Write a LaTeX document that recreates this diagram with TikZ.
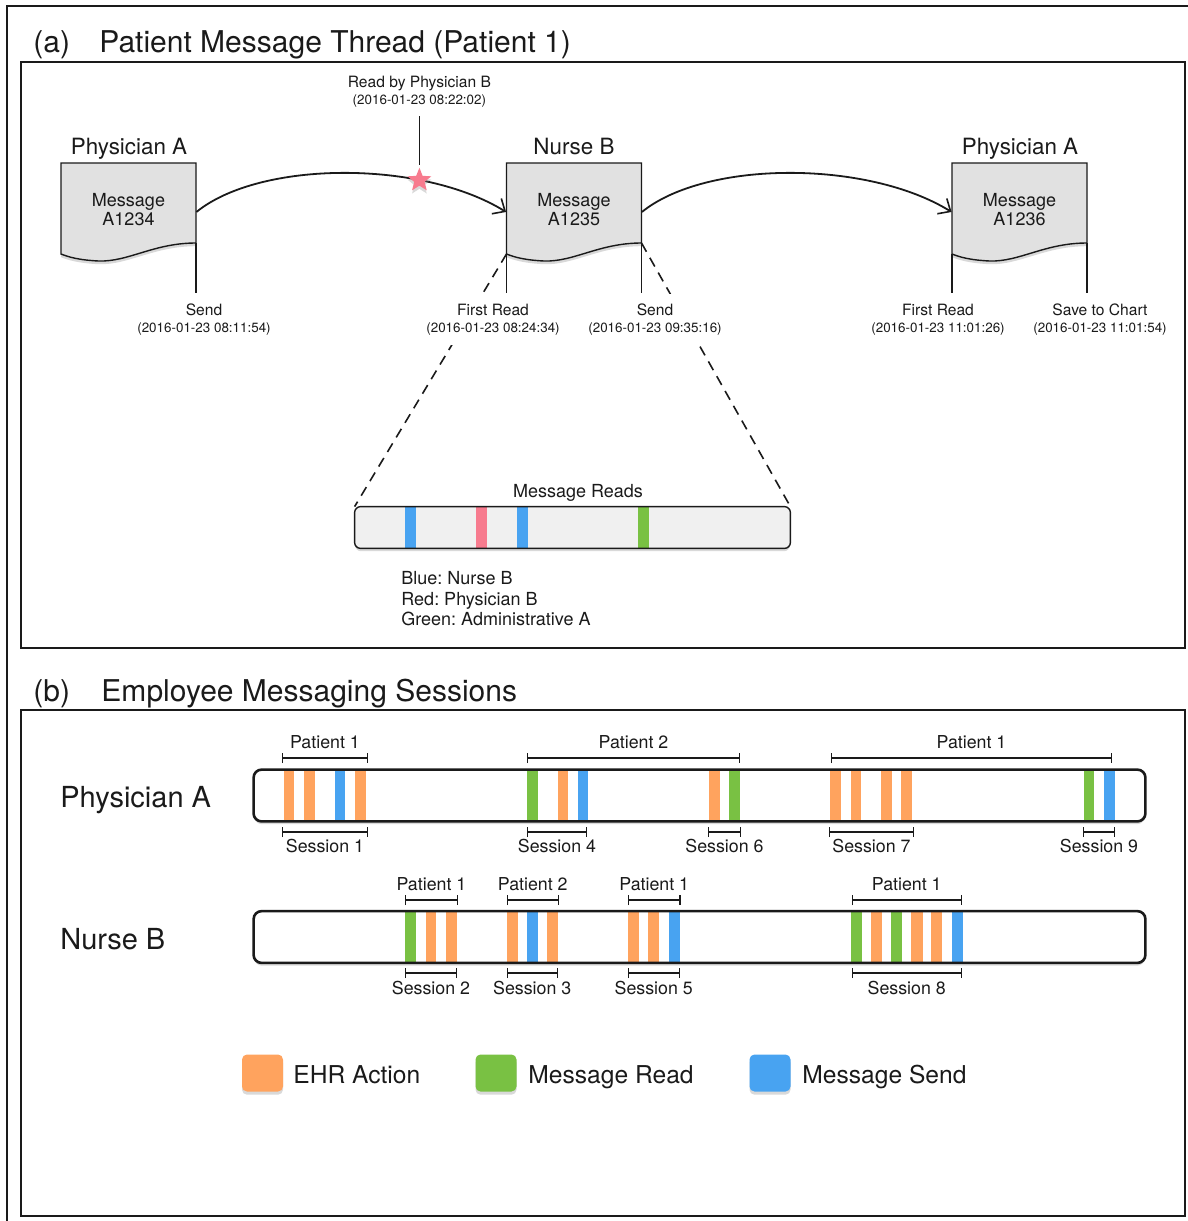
\documentclass[tikz,border=0pt]{standalone}
\usepackage{fontspec}
\setmainfont{TeX Gyre Heros}
\usetikzlibrary{arrows.meta,shapes.geometric,shadows}
\frenchspacing

\definecolor{ehr}{HTML}{FFA35E}
\definecolor{mread}{HTML}{79C143}
\definecolor{msend}{HTML}{48A3F1}
\definecolor{phyb}{HTML}{F77B8E}
\definecolor{docgray}{HTML}{E1E1E1}
\definecolor{readfill}{HTML}{F0F0F0}
\definecolor{ink}{HTML}{1A1A1A}

\newcommand\datefont{\fontsize{6.7}{8.5}\selectfont}

\begin{document}
\begin{tikzpicture}[x=0.5pt, y=-0.5pt,
  font=\fontsize{9}{10.8}\selectfont,
  every node/.style={text=ink},
  softshadow/.style={drop shadow={shadow xshift=0pt, shadow yshift=-1.6pt, opacity=0.3}},
  panelbox/.style={draw=ink, line width=0.75pt},
  paneltitle/.style={anchor=base west, inner sep=0pt, font=\fontsize{15}{18}\selectfont},
  who/.style={anchor=base, font=\fontsize{11.2}{13}\selectfont, inner sep=0pt},
  docnode/.style={minimum width=67.5pt, inner sep=0pt, align=center, font=\fontsize{9}{9.5}\selectfont},
  stamp/.style={align=center, inner xsep=1pt, inner ysep=5pt, fill=white, font=\fontsize{7.8}{8.5}\selectfont},
  conn/.style={draw=ink, line width=0.9pt, -{Straight Barb[length=5pt, width=9pt, line width=0.8pt]}},
  stemline/.style={draw=ink, line width=0.7pt},
  zoomline/.style={draw=ink, line width=0.8pt, dash pattern=on 5pt off 3.5pt},
  starnode/.style={star, star points=5, star point ratio=2.3, minimum size=12.5pt, inner sep=0pt, fill=phyb, softshadow},
  readbar/.style={minimum width=217.5pt, minimum height=20.5pt, inner sep=0pt, fill=readfill, rounded corners=3pt, softshadow},
  keyline/.style={anchor=base west, inner sep=0pt},
  brk/.style={draw=ink, line width=0.55pt, {Bar[width=5pt]}-{Bar[width=5pt]}},
  sessfont/.style={font=\fontsize{8.9}{10}\selectfont, inner sep=0pt},
  rowlabel/.style={font=\fontsize{14.5}{17}\selectfont, anchor=base west, inner sep=0pt},
  trackbar/.style={minimum width=445.5pt, minimum height=25.5pt, inner sep=0pt, fill=white, rounded corners=4pt, softshadow},
  trackedge/.style={draw=ink, line width=1.3pt, rounded corners=4pt},
  legendbox/.style={minimum width=20.5pt, minimum height=18.5pt, inner sep=0pt, rounded corners=2.5pt, softshadow},
  keytext/.style={anchor=base west, inner sep=0pt, font=\fontsize{12.3}{14}\selectfont},
  docpic/.pic={\path[fill=docgray, draw=ink, line width=0.7pt, softshadow]
     (-67.5,-45) -- (67.5,-45) -- (67.5,35)
     .. controls (25,35) and (0,54) .. (-30,53)
     .. controls (-50,52) and (-60,49) .. (-67.5,46) -- cycle;}
]
\useasboundingbox (0,0) rectangle (1188,1221);

% outer frame and the two panels
\draw[ink, line width=1pt] (7,1221) -- (7,6) -- (1188,6);
\draw[panelbox] (21,62) rectangle (1185,648);
\draw[panelbox] (21,710) rectangle (1185,1216);

\node[paneltitle] (ta) at (33,52.5) {(a)};
\node[paneltitle] (tat) at (99,52.5) {Patient Message Thread (Patient 1)};
\node[paneltitle] (tb) at (33,701.5) {(b)};
\node[paneltitle] (tbt) at (101,701.5) {Employee Messaging Sessions};

% ---------- (a) message thread ----------
\pic at (128.5,208) {docpic};
\node[docnode] (m1) at (128.5,210) {Message\\A1234};
\node[who] (w1) at (129,154) {Physician A};

\pic at (574,208) {docpic};
\node[docnode] (m2) at (574,210) {Message\\A1235};
\node[who] (w2) at (574,154) {Nurse B};

\pic at (1019.5,208) {docpic};
\node[docnode] (m3) at (1019.5,210) {Message\\A1236};
\node[who] (w3) at (1020,154) {Physician A};

\coordinate (m1br) at (196,243);
\coordinate (m2bl) at (506.5,254);
\coordinate (m2br) at (641.5,243);
\coordinate (m3bl) at (952,254);
\coordinate (m3br) at (1087,243);

% message read bar
\node[readbar] (reads) at (572.5,527.5) {};
\node (readsl) at (578,493) {Message Reads};

\draw[zoomline] (m2bl) -- (reads.north west);
\draw[zoomline] (m2br) -- (reads.north east);

\fill[msend] (405,507) rectangle (416,548);
\fill[phyb] (476,507) rectangle (487,548);
\fill[msend] (517,507) rectangle (528,548);
\fill[mread] (638,507) rectangle (649,548);
\draw[ink, line width=0.7pt, rounded corners=3pt] (reads.north west) rectangle (reads.south east);

\node[keyline] (k1) at (401,584.5) {Blue: Nurse B};
\node[keyline] (k2) at (401,605) {Red: Physician B};
\node[keyline] (k3) at (401,625.5) {Green: Administrative A};

% event stamps
\node[stamp] (s1) at (204,319.5) {Send\\{\datefont (2016-01-23 08:11:54)}};
\node[stamp] (s2) at (493,319.5) {First Read\\{\datefont (2016-01-23 08:24:34)}};
\node[stamp] (s3) at (655,319.5) {Send\\{\datefont (2016-01-23 09:35:16)}};
\node[stamp] (s4) at (938,319.5) {First Read\\{\datefont (2016-01-23 11:01:26)}};
\node[stamp] (s5) at (1100,319.5) {Save to Chart\\{\datefont (2016-01-23 11:01:54)}};

\draw[stemline] (m1br) -- (m1br |- s1.north);
\draw[stemline] (m2bl) -- (m2bl |- s2.north);
\draw[stemline] (m2br) -- (m2br |- s3.north);
\draw[stemline] (m3bl) -- (m3bl |- s4.north);
\draw[stemline] (m3br) -- (m3br |- s5.north);

% forwarding arrows
\draw[conn] ([yshift=-1pt]m1.east) .. controls +(64,-52) and +(-84,-52) .. ([yshift=-1pt]m2.west)
  node[pos=0.715, starnode] (star) {};
\draw[conn] ([yshift=-1pt]m2.east) .. controls +(64,-52) and +(-84,-52) .. ([yshift=-1pt]m3.west);

\path (star.center) ++(0,-88) node[stamp, fill=none, inner ysep=1pt] (rb)
  {Read by Physician B\\{\datefont (2016-01-23 08:22:02)}};
\draw[stemline, shorten <=3pt] (rb.south) -- (star.north);

% ---------- (b) messaging sessions ----------
\node[rowlabel] (rA) at (60,807.5) {Physician A};
\node[rowlabel] (rB) at (60,949.5) {Nurse B};

\node[trackbar] (barA) at (699.5,795.5) {};
\node[trackbar] (barB) at (699.5,937) {};

\foreach \a/\b/\c in {283.5/294/ehr, 304/314.5/ehr, 334.5/345/msend, 355/365.5/ehr,
    527/538/mread, 557.5/568/ehr, 577.5/588/msend,
    709/719.5/ehr, 729/739.5/mread,
    830/841/ehr, 850.5/861/ehr, 881/892/ehr, 901/911.5/ehr,
    1083.5/1094/mread, 1103.5/1114.5/msend}
  \fill[\c] (\a,770) rectangle (\b,821);

\foreach \a/\b/\c in {405/416/mread, 425.5/436/ehr, 445.5/456.5/ehr,
    506.5/517.5/ehr, 526.5/537.5/msend, 547/558/ehr,
    628/639/ehr, 648/659/ehr, 668.5/679.5/msend,
    851/862/mread, 870.5/881.5/ehr, 891/902/mread, 911/922.5/ehr, 931/942/ehr, 951.5/962.5/msend}
  \fill[\c] (\a,912) rectangle (\b,962);

\draw[trackedge] (barA.north west) rectangle (barA.south east);
\draw[trackedge] (barB.north west) rectangle (barB.south east);

\foreach \a/\b/\t [count=\i] in {282/368/Patient 1, 527/740/Patient 2, 831/1112/Patient 1}
  \draw[brk] (\a,758) -- (\b,758) node[midway, yshift=8pt, sessfont] (pa\i) {\t};
\foreach \a/\b/\t [count=\i] in {282/368/Session 1, 527/587/Session 4, 708/741/Session 6,
    829/914/Session 7, 1083/1115/Session 9}
  \draw[brk] (\a,832) -- (\b,832) node[midway, yshift=-7pt, sessfont] (sa\i) {\t};
\foreach \a/\b/\t [count=\i] in {405/458/Patient 1, 506.5/559/Patient 2, 628/680.5/Patient 1,
    851.5/962/Patient 1}
  \draw[brk] (\a,900) -- (\b,900) node[midway, yshift=8pt, sessfont] (pb\i) {\t};
\foreach \a/\b/\t [count=\i] in {405/457/Session 2, 506.5/558/Session 3, 627.5/680/Session 5,
    851.5/962/Session 8}
  \draw[brk] (\a,973) -- (\b,973) node[midway, yshift=-7.4pt, sessfont] (sb\i) {\t};

% legend
\node[legendbox, fill=ehr] (lg1) at (262.5,1073) {};
\node[keytext] (lt1) at (293,1083) {EHR Action};
\node[legendbox, fill=mread] (lg2) at (496,1073) {};
\node[keytext] (lt2) at (528,1083) {Message Read};
\node[legendbox, fill=msend] (lg3) at (770,1073) {};
\node[keytext] (lt3) at (802,1083) {Message Send};
\end{tikzpicture}
\end{document}
